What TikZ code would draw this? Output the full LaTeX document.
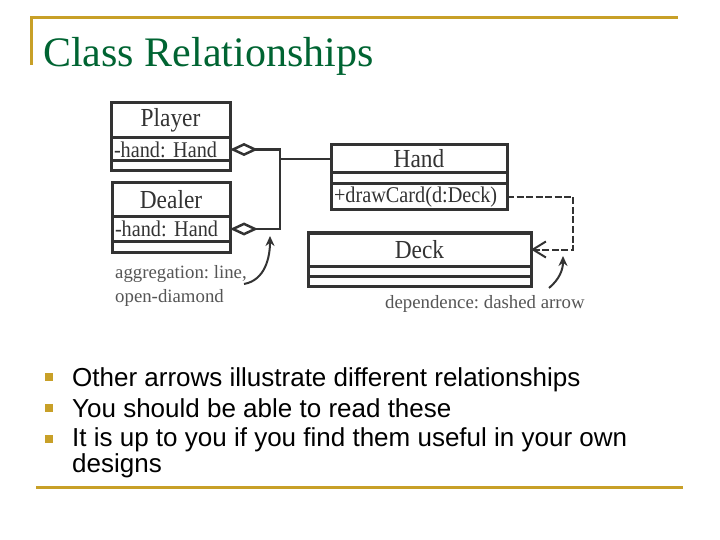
\documentclass[tikz,border=0pt]{standalone}
\usepackage{fontspec}
\setmainfont{Liberation Serif}
\newfontfamily\umlfont[FakeStretch=0.9]{Liberation Serif}
\newfontfamily\slidefont{Liberation Sans}
\usepackage{xcolor}
\definecolor{slgold}{RGB}{200,160,40}
\definecolor{slgreen}{RGB}{0,100,50}
\definecolor{umlgray}{RGB}{51,51,51}
\definecolor{notegray}{RGB}{85,85,85}
\usetikzlibrary{arrows.meta,positioning}
\frenchspacing

\begin{document}
\begin{tikzpicture}[
  x=1pt,y=-1pt,
  umlcell/.style={draw=umlgray,line width=3pt,outer sep=0pt,inner sep=0pt,text=umlgray},
  umlname/.style={umlcell,minimum width=#1,font=\umlfont\fontsize{26}{26}\selectfont},
  umlattr/.style={umlcell,text width=#1,inner xsep=3pt,align=left,
                  font=\umlfont\fontsize{22.5}{22.5}\selectfont},
  umlempty/.style={umlcell,minimum width=#1},
  aggr/.style={{Diamond[open,length=28pt,width=13pt]}-,line width=2.5pt,umlgray},
  assoc/.style={line width=2.5pt,umlgray},
  dep/.style={-{Straight Barb[length=13pt,width=16pt]},line width=2pt,umlgray,
              dash pattern=on 7pt off 2.5pt},
  notetext/.style={inner sep=0pt,text=notegray,align=left,
                   font=\fontsize{18.8}{24}\selectfont},
  notearrow/.style={-{Stealth[length=10pt,width=9pt]},line width=2pt,umlgray},
  goldline/.style={slgold,line width=3pt},
  bulletsq/.style={fill=slgold,minimum size=8pt,inner sep=0pt},
  bullettext/.style={anchor=base west,inner sep=0pt,align=left,
                     font=\slidefont\fontsize{26}{24}\selectfont},
]
  \useasboundingbox (0,0) rectangle (720,540);

  % Slide frame
  \draw[goldline] (30,17.5) -- (678,17.5);
  \draw[goldline] (31,17.5) -- (31,65);
  \draw[goldline] (36,487) -- (683,487);
  \node[anchor=base west,inner sep=0pt,text=slgreen,font=\fontsize{42}{42}\selectfont]
    (title) at (43,67) {Class Relationships};

  % Classes
  \node[umlname=119pt,minimum height=35pt] (player) at (170.5,120.5) {Player};
  \node[umlattr=113pt,minimum height=23pt,below=0pt of player] (playerattr) {-hand: Hand};
  \node[umlempty=119pt,minimum height=10pt,below=0pt of playerattr] (playerops) {};

  \node[umlname=118pt,minimum height=34pt] (dealer) at (171,200) {Dealer};
  \node[umlattr=112pt,minimum height=24pt,below=0pt of dealer] (dealerattr) {-hand: Hand};
  \node[umlempty=118pt,minimum height=11pt,below=0pt of dealerattr] (dealerops) {};

  \node[umlname=176pt,minimum height=28pt] (hand) at (419,159) {Hand};
  \node[umlempty=176pt,minimum height=11pt,below=0pt of hand] (handattr) {};
  \node[umlattr=170pt,minimum height=26pt,below=0pt of handattr] (handops) {+drawCard(d:Deck)};

  \node[umlname=223pt,minimum height=33pt] (deck) at (419.5,249.5) {Deck};
  \node[umlempty=223pt,minimum height=10pt,below=0pt of deck] (deckattr) {};
  \node[umlempty=223pt,minimum height=10pt,below=0pt of deckattr] (deckops) {};

  % Relationships
  \coordinate (trunk) at (280,159);
  \draw[aggr] (playerattr.east) -| (trunk);
  \draw[aggr] (dealerattr.east) -| (trunk);
  \draw[assoc] (trunk) -- (hand.west);
  \coordinate (depcorner) at (573,197);
  \draw[dep] (handops.east) -- (depcorner) |- (deck.east);

  % Notes
  \node[notetext,anchor=base west] (aggrnote) at (115,302) {aggregation: line,\\open-diamond};
  \coordinate (aggrtail) at (244,284);
  \coordinate (aggrtip) at (270,236);
  \draw[notearrow] (aggrtail) to[out=10,in=-90] (aggrtip);
  \node[notetext,anchor=base west] (depnote) at (385,308) {dependence: dashed arrow};
  \coordinate (deptail) at (549,288);
  \coordinate (deptip) at (563,256);
  \draw[notearrow] (deptail) to[out=40,in=-90] (deptip);

  % Bullets
  \node[bulletsq] (b1) at (49,377) {};
  \node[bulletsq] (b2) at (49,408) {};
  \node[bulletsq] (b3) at (49,439) {};
  \node[bullettext] (t1) at (72,386) {Other arrows illustrate different relationships};
  \node[bullettext] (t2) at (72,417) {You should be able to read these};
  \node[bullettext] (t3) at (72,472) {It is up to you if you find them useful in your own\\designs};
\end{tikzpicture}
\end{document}
